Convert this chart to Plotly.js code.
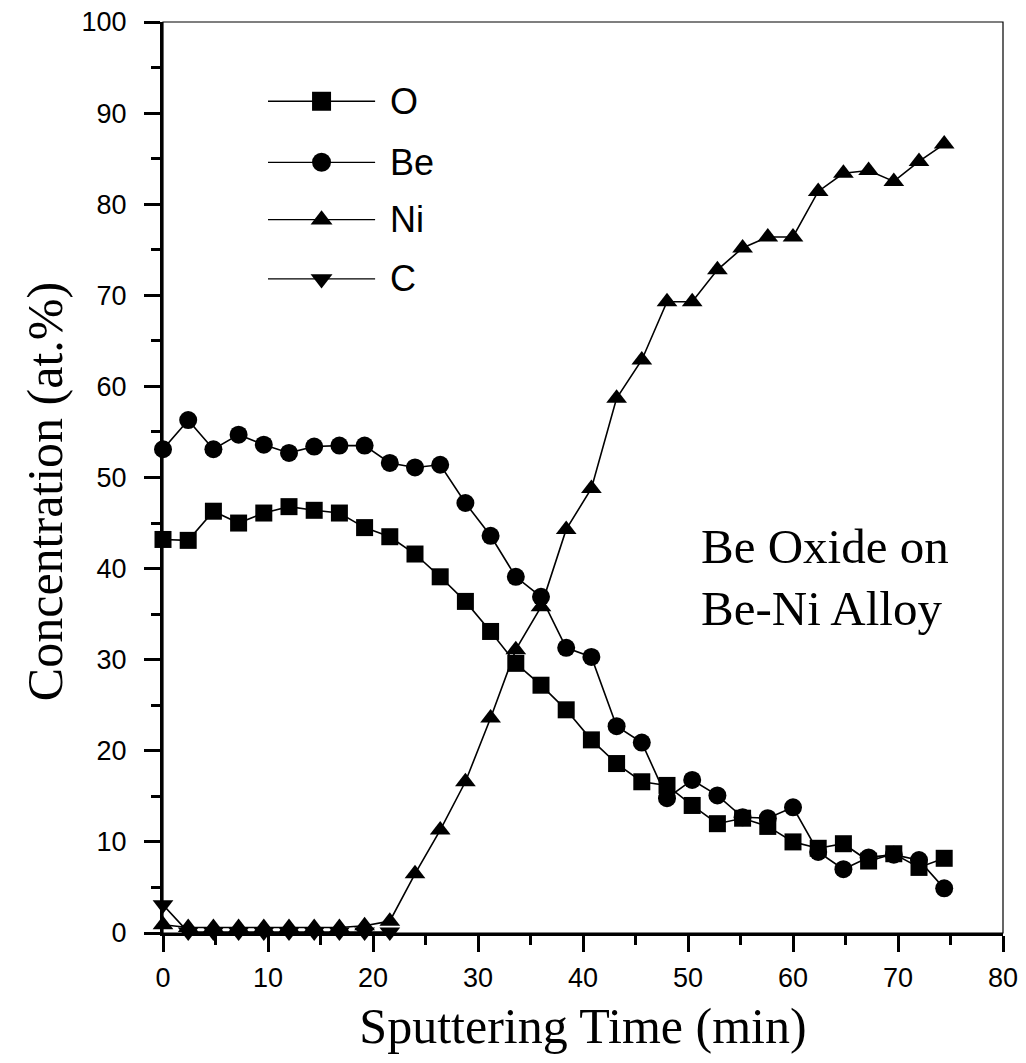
<!DOCTYPE html>
<html>
<head>
<meta charset="utf-8">
<script src="https://cdn.plot.ly/plotly-3.0.1.min.js"></script>
<style>html,body{margin:0;padding:0;background:#fff;}#chart{width:1026px;height:1063px;}</style>
</head>
<body>
<div id="chart"></div>
<script>
// Sputtering time (min)
const time = [0, 2.4, 4.8, 7.2, 9.6, 12, 14.4, 16.8, 19.2, 21.6, 24, 26.4, 28.8, 31.2, 33.6, 36, 38.4, 40.8, 43.2, 45.6, 48, 50.4, 52.8, 55.2, 57.6, 60, 62.4, 64.8, 67.2, 69.6, 72, 74.4];
const timeC = [0, 2.4, 4.8, 7.2, 9.6, 12, 14.4, 16.8, 19.2, 21.6];
// Concentrations (at.%)
const O  = [43.2, 43.1, 46.3, 45.0, 46.1, 46.8, 46.4, 46.1, 44.5, 43.5, 41.6, 39.1, 36.4, 33.1, 29.6, 27.2, 24.5, 21.2, 18.6, 16.6, 16.2, 14.0, 12.0, 12.6, 11.7, 10.0, 9.3, 9.8, 7.9, 8.7, 7.2, 8.2];
const Be = [53.1, 56.3, 53.1, 54.7, 53.6, 52.7, 53.4, 53.5, 53.5, 51.6, 51.1, 51.4, 47.2, 43.6, 39.1, 36.9, 31.3, 30.3, 22.7, 20.9, 14.8, 16.8, 15.1, 12.7, 12.6, 13.8, 8.9, 7.0, 8.3, 8.6, 8.0, 4.9];
const Ni = [0.9, 0.6, 0.6, 0.6, 0.6, 0.6, 0.6, 0.6, 0.8, 1.3, 6.5, 11.3, 16.6, 23.6, 31.1, 35.8, 44.3, 48.8, 58.7, 62.9, 69.3, 69.3, 72.8, 75.2, 76.4, 76.4, 81.4, 83.4, 83.7, 82.5, 84.7, 86.6];
const C  = [3.1, 0.1, 0.1, 0.1, 0.1, 0.1, 0.1, 0.1, 0.1, 0.1];

const seriesNames = ['O', 'Be', 'Ni', 'C'];
const seriesSymbols = ['square', 'circle', 'triangle-up', 'triangle-down'];
const seriesSizes = [17, 18, 18, 18];
const xTickVals = [0, 10, 20, 30, 40, 50, 60, 70, 80];
const yTickVals = [0, 10, 20, 30, 40, 50, 60, 70, 80, 90, 100];
const noteLines = ['Be Oxide on', 'Be-Ni Alloy'];
const xTitle = 'Sputtering Time (min)';
const yTitle = 'Concentration (at.%)';

// legend key placement (in axis units)
const keyX = [10, 15.1, 20.2];
const keyY = [91.3, 84.6, 78.3, 71.8];
const keyTextX = 21.4;

const xs = [time, time, time, timeC];
const ys = [O, Be, Ni, C];

const traces = [];
for (let i = 0; i < 4; i++) {
  traces.push({
    x: xs[i], y: ys[i], type: 'scatter', mode: 'lines+markers', name: seriesNames[i],
    line: {color: '#000', width: 1.6},
    marker: {symbol: seriesSymbols[i], size: seriesSizes[i], color: '#000', line: {width: 0}},
    cliponaxis: false, showlegend: false
  });
}
// custom legend keys: line, then marker on top
for (let i = 0; i < 4; i++) {
  traces.push({
    x: [keyX[0], keyX[2]], y: [keyY[i], keyY[i]], type: 'scatter', mode: 'lines',
    line: {color: '#000', width: 1.3},
    cliponaxis: false, showlegend: false, hoverinfo: 'skip'
  });
  traces.push({
    x: [keyX[1]], y: [keyY[i]], type: 'scatter', mode: 'markers',
    marker: {symbol: seriesSymbols[i], size: 19, color: '#000', opacity: 1, line: {width: 0}},
    cliponaxis: false, showlegend: false, hoverinfo: 'skip'
  });
}

const serif = 'Liberation Serif, Times New Roman, serif';
const sans = 'Liberation Sans, Arial, sans-serif';

const annotations = [];
for (let i = 0; i < 4; i++) {
  annotations.push({x: keyTextX, y: keyY[i], xref: 'x', yref: 'y', text: seriesNames[i],
    showarrow: false, xanchor: 'left', yanchor: 'middle',
    font: {family: sans, size: 36, color: '#000'}});
}
annotations.push({x: 51, y: 42.4, xref: 'x', yref: 'y', text: noteLines[0], showarrow: false,
  xanchor: 'left', yanchor: 'middle', font: {family: serif, size: 49, color: '#000'}});
annotations.push({x: 51, y: 35.6, xref: 'x', yref: 'y', text: noteLines[1], showarrow: false,
  xanchor: 'left', yanchor: 'middle', font: {family: serif, size: 49, color: '#000'}});
// y-axis title
annotations.push({x: -0.1405, y: 0.485, xref: 'paper', yref: 'paper', text: yTitle, textangle: -90,
  showarrow: false, xanchor: 'center', yanchor: 'middle', font: {family: serif, size: 50, color: '#000'}});

const tickFont = {family: sans, size: 27, color: '#000'};
const titleFont = {family: serif, size: 50, color: '#000'};

const layout = {
  width: 1026, height: 1063,
  margin: {l: 163, r: 23, t: 22, b: 130},
  paper_bgcolor: '#fff', plot_bgcolor: '#fff',
  showlegend: false,
  xaxis: {
    range: [0, 80], tickvals: xTickVals, ticktext: xTickVals.map(String),
    showgrid: false, zeroline: false, showline: true, linecolor: '#000', linewidth: 3,
    ticks: 'outside', ticklen: 16, tickwidth: 3, tickcolor: '#000',
    minor: {dtick: 5, tick0: 0, ticks: 'outside', ticklen: 9, tickwidth: 3, tickcolor: '#000'},
    tickfont: tickFont, ticklabelstandoff: 3,
    title: {text: xTitle, font: titleFont, standoff: 16}
  },
  yaxis: {
    range: [0, 100], tickvals: yTickVals, ticktext: yTickVals.map(String),
    showgrid: false, zeroline: false, showline: true, linecolor: '#000', linewidth: 3,
    ticks: 'outside', ticklen: 16, tickwidth: 3, tickcolor: '#000',
    minor: {dtick: 5, tick0: 0, ticks: 'outside', ticklen: 9, tickwidth: 3, tickcolor: '#000'},
    tickfont: tickFont, ticklabelstandoff: 12
  },
  shapes: [{type: 'rect', xref: 'paper', yref: 'paper', x0: 0, x1: 1, y0: 0, y1: 1,
    line: {color: '#000', width: 1.2}, layer: 'below'}],
  annotations: annotations
};

Plotly.newPlot('chart', traces, layout, {staticPlot: true});
</script>
</body>
</html>
